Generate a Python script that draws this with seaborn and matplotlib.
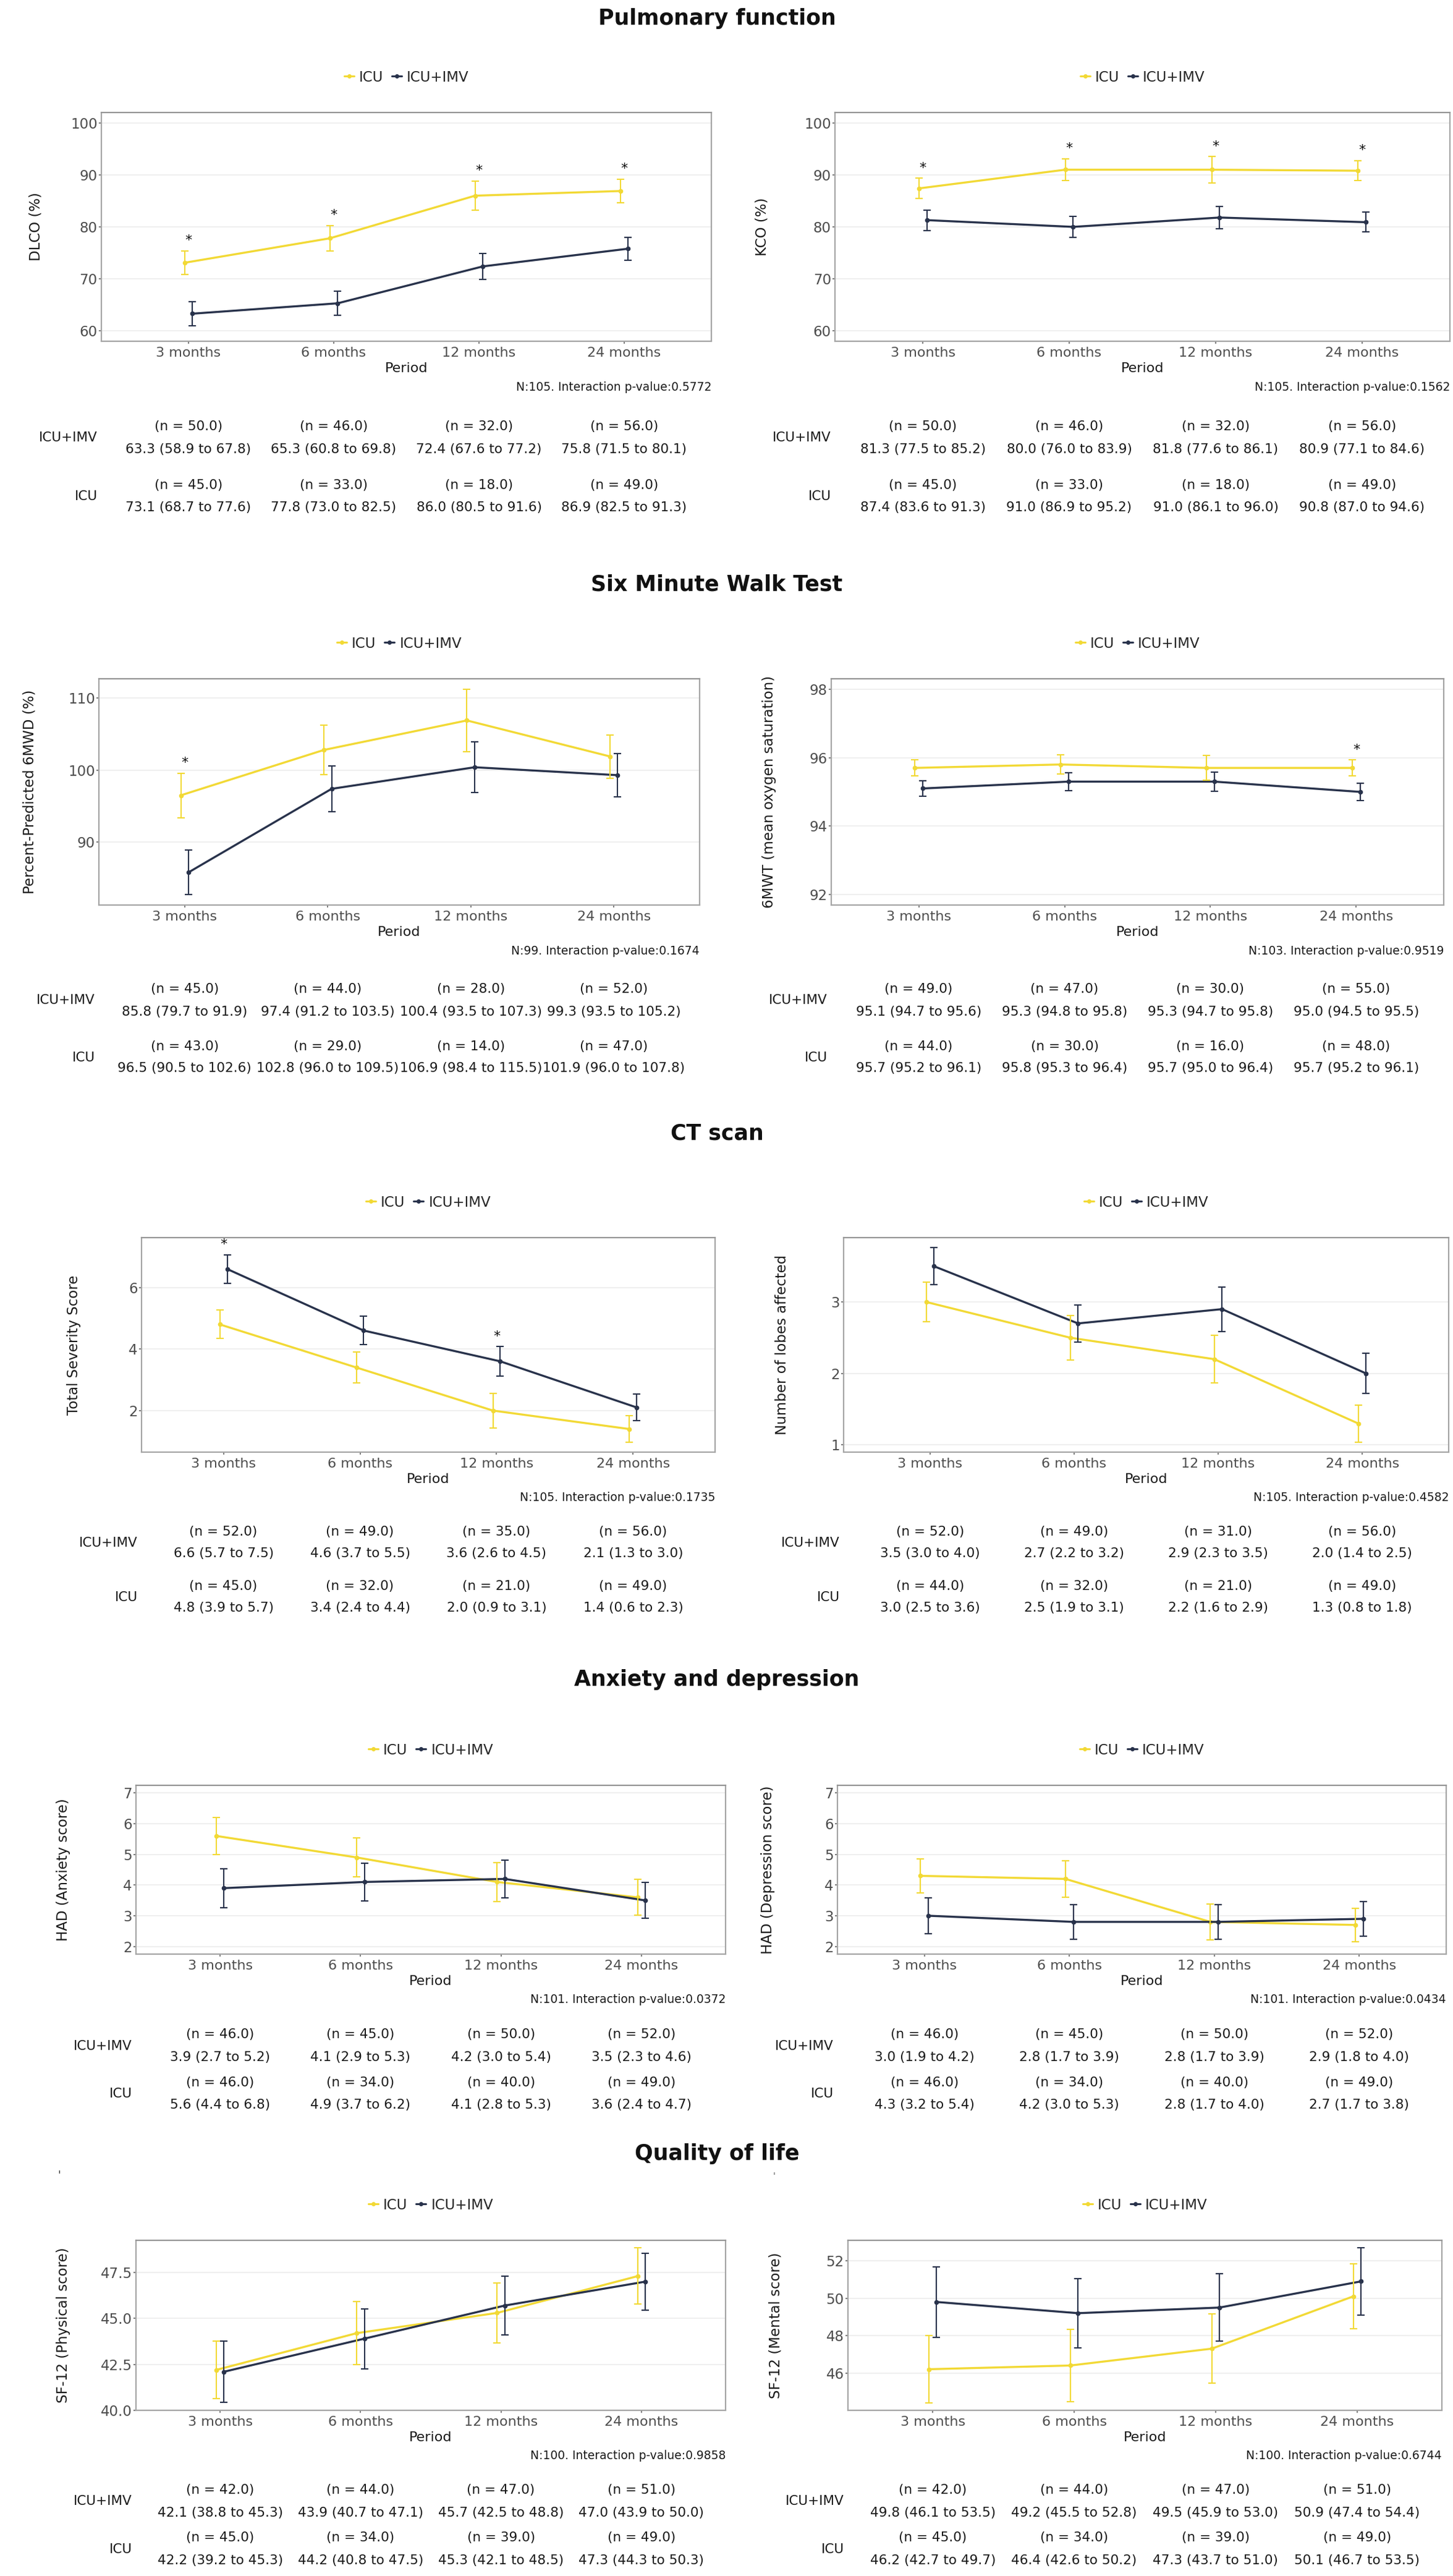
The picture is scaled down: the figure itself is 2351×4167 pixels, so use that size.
import matplotlib
matplotlib.use("Agg")
import matplotlib.pyplot as plt
import matplotlib.transforms as mtransforms
from matplotlib.lines import Line2D
import pandas as pd
import seaborn as sns

# ------------------------------------------------------------------ data
PERIODS = ["3 months", "6 months", "12 months", "24 months"]
GROUPS = ["ICU", "ICU+IMV"]

# Pulmonary function - DLCO
dlco_imv_mean = [63.3, 65.3, 72.4, 75.8]
dlco_imv_lo = [58.9, 60.8, 67.6, 71.5]
dlco_imv_hi = [67.8, 69.8, 77.2, 80.1]
dlco_imv_n = [50, 46, 32, 56]
dlco_imv_err = [2.27, 2.30, 2.45, 2.19]
dlco_icu_mean = [73.1, 77.8, 86.0, 86.9]
dlco_icu_lo = [68.7, 73.0, 80.5, 82.5]
dlco_icu_hi = [77.6, 82.5, 91.6, 91.3]
dlco_icu_n = [45, 33, 18, 49]
dlco_icu_err = [2.27, 2.42, 2.83, 2.24]

# Pulmonary function - KCO
kco_imv_mean = [81.3, 80.0, 81.8, 80.9]
kco_imv_lo = [77.5, 76.0, 77.6, 77.1]
kco_imv_hi = [85.2, 83.9, 86.1, 84.6]
kco_imv_n = [50, 46, 32, 56]
kco_imv_err = [1.96, 2.02, 2.17, 1.91]
kco_icu_mean = [87.4, 91.0, 91.0, 90.8]
kco_icu_lo = [83.6, 86.9, 86.1, 87.0]
kco_icu_hi = [91.3, 95.2, 96.0, 94.6]
kco_icu_n = [45, 33, 18, 49]
kco_icu_err = [1.96, 2.12, 2.53, 1.94]

# Six minute walk test - percent predicted distance
mwd_imv_mean = [85.8, 97.4, 100.4, 99.3]
mwd_imv_lo = [79.7, 91.2, 93.5, 93.5]
mwd_imv_hi = [91.9, 103.5, 107.3, 105.2]
mwd_imv_n = [45, 44, 28, 52]
mwd_imv_err = [3.11, 3.14, 3.52, 2.98]
mwd_icu_mean = [96.5, 102.8, 106.9, 101.9]
mwd_icu_lo = [90.5, 96.0, 98.4, 96.0]
mwd_icu_hi = [102.6, 109.5, 115.5, 107.8]
mwd_icu_n = [43, 29, 14, 47]
mwd_icu_err = [3.09, 3.44, 4.36, 3.01]

# Six minute walk test - mean oxygen saturation
sat_imv_mean = [95.1, 95.3, 95.3, 95.0]
sat_imv_lo = [94.7, 94.8, 94.7, 94.5]
sat_imv_hi = [95.6, 95.8, 95.8, 95.5]
sat_imv_n = [49, 47, 30, 55]
sat_imv_err = [0.23, 0.26, 0.28, 0.26]
sat_icu_mean = [95.7, 95.8, 95.7, 95.7]
sat_icu_lo = [95.2, 95.3, 95.0, 95.2]
sat_icu_hi = [96.1, 96.4, 96.4, 96.1]
sat_icu_n = [44, 30, 16, 48]
sat_icu_err = [0.23, 0.28, 0.36, 0.23]

# CT scan - total severity score
sev_imv_mean = [6.6, 4.6, 3.6, 2.1]
sev_imv_lo = [5.7, 3.7, 2.6, 1.3]
sev_imv_hi = [7.5, 5.5, 4.5, 3.0]
sev_imv_n = [52, 49, 35, 56]
sev_imv_err = [0.46, 0.46, 0.48, 0.43]
sev_icu_mean = [4.8, 3.4, 2.0, 1.4]
sev_icu_lo = [3.9, 2.4, 0.9, 0.6]
sev_icu_hi = [5.7, 4.4, 3.1, 2.3]
sev_icu_n = [45, 32, 21, 49]
sev_icu_err = [0.46, 0.51, 0.56, 0.43]

# CT scan - number of lobes affected
lob_imv_mean = [3.5, 2.7, 2.9, 2.0]
lob_imv_lo = [3.0, 2.2, 2.3, 1.4]
lob_imv_hi = [4.0, 3.2, 3.5, 2.5]
lob_imv_n = [52, 49, 31, 56]
lob_imv_err = [0.26, 0.26, 0.31, 0.28]
lob_icu_mean = [3.0, 2.5, 2.2, 1.3]
lob_icu_lo = [2.5, 1.9, 1.6, 0.8]
lob_icu_hi = [3.6, 3.1, 2.9, 1.8]
lob_icu_n = [44, 32, 21, 49]
lob_icu_err = [0.28, 0.31, 0.33, 0.26]

# Anxiety and depression - HAD anxiety
anx_imv_mean = [3.9, 4.1, 4.2, 3.5]
anx_imv_lo = [2.7, 2.9, 3.0, 2.3]
anx_imv_hi = [5.2, 5.3, 5.4, 4.6]
anx_imv_n = [46, 45, 50, 52]
anx_imv_err = [0.63, 0.61, 0.61, 0.59]
anx_icu_mean = [5.6, 4.9, 4.1, 3.6]
anx_icu_lo = [4.4, 3.7, 2.8, 2.4]
anx_icu_hi = [6.8, 6.2, 5.3, 4.7]
anx_icu_n = [46, 34, 40, 49]
anx_icu_err = [0.61, 0.64, 0.64, 0.59]

# Anxiety and depression - HAD depression
dep_imv_mean = [3.0, 2.8, 2.8, 2.9]
dep_imv_lo = [1.9, 1.7, 1.7, 1.8]
dep_imv_hi = [4.2, 3.9, 3.9, 4.0]
dep_imv_n = [46, 45, 50, 52]
dep_imv_err = [0.59, 0.56, 0.56, 0.56]
dep_icu_mean = [4.3, 4.2, 2.8, 2.7]
dep_icu_lo = [3.2, 3.0, 1.7, 1.7]
dep_icu_hi = [5.4, 5.3, 4.0, 3.8]
dep_icu_n = [46, 34, 40, 49]
dep_icu_err = [0.56, 0.59, 0.59, 0.54]

# Quality of life - SF-12 physical
phy_imv_mean = [42.1, 43.9, 45.7, 47.0]
phy_imv_lo = [38.8, 40.7, 42.5, 43.9]
phy_imv_hi = [45.3, 47.1, 48.8, 50.0]
phy_imv_n = [42, 44, 47, 51]
phy_imv_err = [1.66, 1.63, 1.61, 1.56]
phy_icu_mean = [42.2, 44.2, 45.3, 47.3]
phy_icu_lo = [39.2, 40.8, 42.1, 44.3]
phy_icu_hi = [45.3, 47.5, 48.5, 50.3]
phy_icu_n = [45, 34, 39, 49]
phy_icu_err = [1.56, 1.71, 1.63, 1.53]

# Quality of life - SF-12 mental
men_imv_mean = [49.8, 49.2, 49.5, 50.9]
men_imv_lo = [46.1, 45.5, 45.9, 47.4]
men_imv_hi = [53.5, 52.8, 53.0, 54.4]
men_imv_n = [42, 44, 47, 51]
men_imv_err = [1.89, 1.86, 1.81, 1.79]
men_icu_mean = [46.2, 46.4, 47.3, 50.1]
men_icu_lo = [42.7, 42.6, 43.7, 46.7]
men_icu_hi = [49.7, 50.2, 51.0, 53.5]
men_icu_n = [45, 34, 39, 49]
men_icu_err = [1.79, 1.94, 1.86, 1.73]

SECTION_TITLES = ["Pulmonary function", "Six Minute Walk Test", "CT scan",
                  "Anxiety and depression", "Quality of life"]

# ------------------------------------------------------------------ style
W, H = 2351, 4167
YELLOW = "#F2D935"
DARK = "#28324B"
PALETTE = {"ICU": YELLOW, "ICU+IMV": DARK}
DODGE = {"ICU": -0.027, "ICU+IMV": 0.027}

sns.set_theme(style="white")
plt.rcParams["font.family"] = ["DejaVu Sans"]

fig = plt.figure(figsize=(W / 100, H / 100), dpi=100)
fig.patch.set_facecolor("white")


def fy(y):
    return 1 - y / H


def series(mean, lo, hi, n, err):
    return dict(mean=mean, lo=lo, hi=hi, n=n, err=err)


def draw_panel(box, data, ylim, yticks, yticklabels, ylabel, ylab_off,
               ntext, sig, table_y):
    l, r, t, b = box
    wpx, hpx = r - l, b - t
    ax = fig.add_axes([l / W, 1 - b / H, wpx / W, hpx / H])
    ax.set_facecolor("white")

    rows = []
    for g in GROUPS:
        s = data[g]
        for i, p in enumerate(PERIODS):
            rows.append(dict(group=g, period=p, x=i + DODGE[g],
                             mean=s["mean"][i], err=s["err"][i]))
    df = pd.DataFrame(rows)

    ax.yaxis.grid(True, color="#EFEFEF", linewidth=1.4, zorder=0)
    ax.xaxis.grid(False)

    sns.lineplot(data=df, x="x", y="mean", hue="group", hue_order=GROUPS,
                 palette=PALETTE, marker="o", markersize=5.5,
                 markeredgewidth=0, linewidth=2.4, legend=False, ax=ax,
                 estimator=None, sort=True, zorder=2)
    for g in GROUPS:
        d = df[df["group"] == g]
        ax.errorbar(d["x"], d["mean"], yerr=d["err"], fmt="none",
                    ecolor=PALETTE[g], elinewidth=1.5, capsize=4,
                    capthick=1.5, zorder=3)

    for i in sig:
        top = max(data[g]["mean"][i] + data[g]["err"][i] for g in GROUPS)
        ax.annotate("*", xy=(i, top), xytext=(0, 12),
                    textcoords="offset points", ha="center", va="center",
                    fontsize=16, color="#111111")

    ax.set_xlim(-0.6, 3.6)
    ax.set_ylim(*ylim)
    ax.set_xticks(range(len(PERIODS)))
    ax.set_xticklabels(PERIODS)
    ax.set_yticks(yticks)
    ax.set_yticklabels(yticklabels)
    ax.tick_params(axis="x", bottom=True, length=3, width=1.2,
                   color="#666666", labelcolor="#4D4D4D", labelsize=16,
                   pad=3.5)
    ax.tick_params(axis="y", left=True, length=3, width=1.2,
                   color="#666666", labelcolor="#4D4D4D", labelsize=16.5,
                   pad=1.5)
    for side, sp in ax.spines.items():
        sp.set_visible(True)
        sp.set_color("#A5A5A5" if side != "top" else "#959595")
        sp.set_linewidth(1.6)

    ax.set_xlabel("Period", fontsize=16, color="#1A1A1A", va="center")
    ax.xaxis.set_label_coords(0.5, -44 / hpx)
    ax.set_ylabel(ylabel, fontsize=16.5, color="#1A1A1A", va="center")
    ax.yaxis.set_label_coords(-ylab_off / wpx, 0.5)

    ax.text(1.0, -74 / hpx, ntext, transform=ax.transAxes, ha="right",
            va="center", fontsize=13.5, color="#1A1A1A")

    handles = [Line2D([0], [0], color=PALETTE[g], marker="o", markersize=5,
                      markeredgewidth=0, linewidth=2.2) for g in GROUPS]
    ax.legend(handles, GROUPS, loc="center",
              bbox_to_anchor=(0.5, 1 + 57 / hpx), ncol=2, frameon=False,
              fontsize=16.5, handlelength=0.7, handletextpad=0.35,
              columnspacing=0.6, borderaxespad=0)

    trans = mtransforms.blended_transform_factory(ax.transData,
                                                  fig.transFigure)
    order = ["ICU+IMV", "ICU"]
    for k, g in enumerate(order):
        s = data[g]
        yn, yv = table_y[2 * k], table_y[2 * k + 1]
        for i in range(len(PERIODS)):
            ax.text(i, fy(yn), f"(n = {s['n'][i]:.1f})", transform=trans,
                    ha="center", va="center", fontsize=15.5,
                    color="#1A1A1A", clip_on=False)
            ax.text(i, fy(yv),
                    f"{s['mean'][i]:.1f} ({s['lo'][i]:.1f} to {s['hi'][i]:.1f})",
                    transform=trans, ha="center", va="center",
                    fontsize=15.5, color="#1A1A1A", clip_on=False)
        fig.text((l - 6) / W, fy((yn + yv) / 2), g, ha="right", va="center",
                 fontsize=15.5, color="#1A1A1A")
    return ax


panels = [
    # section 1
    dict(box=(164, 1151, 182, 552),
         data={"ICU": series(dlco_icu_mean, dlco_icu_lo, dlco_icu_hi, dlco_icu_n, dlco_icu_err),
               "ICU+IMV": series(dlco_imv_mean, dlco_imv_lo, dlco_imv_hi, dlco_imv_n, dlco_imv_err)},
         ylim=(58, 102), yticks=[60, 70, 80, 90, 100],
         yticklabels=["60", "70", "80", "90", "100"], ylabel="DLCO (%)",
         ylab_off=106, ntext="N:105. Interaction p-value:0.5772",
         sig=[0, 1, 2, 3], table_y=(690, 727, 785, 821)),
    dict(box=(1351, 2346, 182, 552),
         data={"ICU": series(kco_icu_mean, kco_icu_lo, kco_icu_hi, kco_icu_n, kco_icu_err),
               "ICU+IMV": series(kco_imv_mean, kco_imv_lo, kco_imv_hi, kco_imv_n, kco_imv_err)},
         ylim=(58, 102), yticks=[60, 70, 80, 90, 100],
         yticklabels=["60", "70", "80", "90", "100"], ylabel="KCO (%)",
         ylab_off=118, ntext="N:105. Interaction p-value:0.1562",
         sig=[0, 1, 2, 3], table_y=(690, 727, 785, 821)),
    # section 2
    dict(box=(160, 1132, 1098, 1464),
         data={"ICU": series(mwd_icu_mean, mwd_icu_lo, mwd_icu_hi, mwd_icu_n, mwd_icu_err),
               "ICU+IMV": series(mwd_imv_mean, mwd_imv_lo, mwd_imv_hi, mwd_imv_n, mwd_imv_err)},
         ylim=(81.26, 112.69), yticks=[90, 100, 110],
         yticklabels=["90", "100", "110"], ylabel="Percent-Predicted 6MWD (%)",
         ylab_off=112, ntext="N:99. Interaction p-value:0.1674",
         sig=[0], table_y=(1600, 1637, 1693, 1728)),
    dict(box=(1345, 2336, 1098, 1464),
         data={"ICU": series(sat_icu_mean, sat_icu_lo, sat_icu_hi, sat_icu_n, sat_icu_err),
               "ICU+IMV": series(sat_imv_mean, sat_imv_lo, sat_imv_hi, sat_imv_n, sat_imv_err)},
         ylim=(91.7, 98.3), yticks=[92, 94, 96, 98],
         yticklabels=["92", "94", "96", "98"],
         ylabel="6MWT (mean oxygen saturation)",
         ylab_off=100, ntext="N:103. Interaction p-value:0.9519",
         sig=[3], table_y=(1600, 1637, 1693, 1728)),
    # section 3
    dict(box=(229, 1157, 2002, 2349),
         data={"ICU": series(sev_icu_mean, sev_icu_lo, sev_icu_hi, sev_icu_n, sev_icu_err),
               "ICU+IMV": series(sev_imv_mean, sev_imv_lo, sev_imv_hi, sev_imv_n, sev_imv_err)},
         ylim=(0.65, 7.62), yticks=[2, 4, 6], yticklabels=["2", "4", "6"],
         ylabel="Total Severity Score", ylab_off=109,
         ntext="N:105. Interaction p-value:0.1735",
         sig=[0, 2], table_y=(2478, 2513, 2566, 2601)),
    dict(box=(1365, 2344, 2002, 2349),
         data={"ICU": series(lob_icu_mean, lob_icu_lo, lob_icu_hi, lob_icu_n, lob_icu_err),
               "ICU+IMV": series(lob_imv_mean, lob_imv_lo, lob_imv_hi, lob_imv_n, lob_imv_err)},
         ylim=(0.9, 3.9), yticks=[1, 2, 3], yticklabels=["1", "2", "3"],
         ylabel="Number of lobes affected", ylab_off=100,
         ntext="N:105. Interaction p-value:0.4582",
         sig=[], table_y=(2478, 2513, 2566, 2601)),
    # section 4
    dict(box=(220, 1174, 2888, 3161),
         data={"ICU": series(anx_icu_mean, anx_icu_lo, anx_icu_hi, anx_icu_n, anx_icu_err),
               "ICU+IMV": series(anx_imv_mean, anx_imv_lo, anx_imv_hi, anx_imv_n, anx_imv_err)},
         ylim=(1.75, 7.25), yticks=[2, 3, 4, 5, 6, 7],
         yticklabels=["2", "3", "4", "5", "6", "7"],
         ylabel="HAD (Anxiety score)", ylab_off=117,
         ntext="N:101. Interaction p-value:0.0372",
         sig=[], table_y=(3291, 3328, 3369, 3405)),
    dict(box=(1355, 2340, 2888, 3161),
         data={"ICU": series(dep_icu_mean, dep_icu_lo, dep_icu_hi, dep_icu_n, dep_icu_err),
               "ICU+IMV": series(dep_imv_mean, dep_imv_lo, dep_imv_hi, dep_imv_n, dep_imv_err)},
         ylim=(1.75, 7.25), yticks=[2, 3, 4, 5, 6, 7],
         yticklabels=["2", "3", "4", "5", "6", "7"],
         ylabel="HAD (Depression score)", ylab_off=112,
         ntext="N:101. Interaction p-value:0.0434",
         sig=[], table_y=(3291, 3328, 3369, 3405)),
    # section 5
    dict(box=(220, 1174, 3624, 3899),
         data={"ICU": series(phy_icu_mean, phy_icu_lo, phy_icu_hi, phy_icu_n, phy_icu_err),
               "ICU+IMV": series(phy_imv_mean, phy_imv_lo, phy_imv_hi, phy_imv_n, phy_imv_err)},
         ylim=(40.02, 49.25), yticks=[40, 42.5, 45, 47.5],
         yticklabels=["40.0", "42.5", "45.0", "47.5"],
         ylabel="SF-12 (Physical score)", ylab_off=118,
         ntext="N:100. Interaction p-value:0.9858",
         sig=[], table_y=(4028, 4065, 4105, 4142)),
    dict(box=(1372, 2333, 3624, 3899),
         data={"ICU": series(men_icu_mean, men_icu_lo, men_icu_hi, men_icu_n, men_icu_err),
               "ICU+IMV": series(men_imv_mean, men_imv_lo, men_imv_hi, men_imv_n, men_imv_err)},
         ylim=(44.0, 53.1), yticks=[46, 48, 50, 52],
         yticklabels=["46", "48", "50", "52"],
         ylabel="SF-12 (Mental score)", ylab_off=117,
         ntext="N:100. Interaction p-value:0.6744",
         sig=[], table_y=(4028, 4065, 4105, 4142)),
]

for p in panels:
    draw_panel(**p)

title_y = [30, 945, 1833, 2717, 3484]
for ttl, y in zip(SECTION_TITLES, title_y):
    fig.text(1160 / W, fy(y), ttl, ha="center", va="center", fontsize=25,
             fontweight="bold", color="#111111")

# small stray marks present in the original figure
fig.text(96 / W, fy(3519), "'", ha="center", va="center", fontsize=12,
         color="#333333")
fig.text(1253 / W, fy(3520), "'", ha="center", va="center", fontsize=10,
         color="#555555")

fig.savefig("out.png", dpi=100, facecolor="white")
